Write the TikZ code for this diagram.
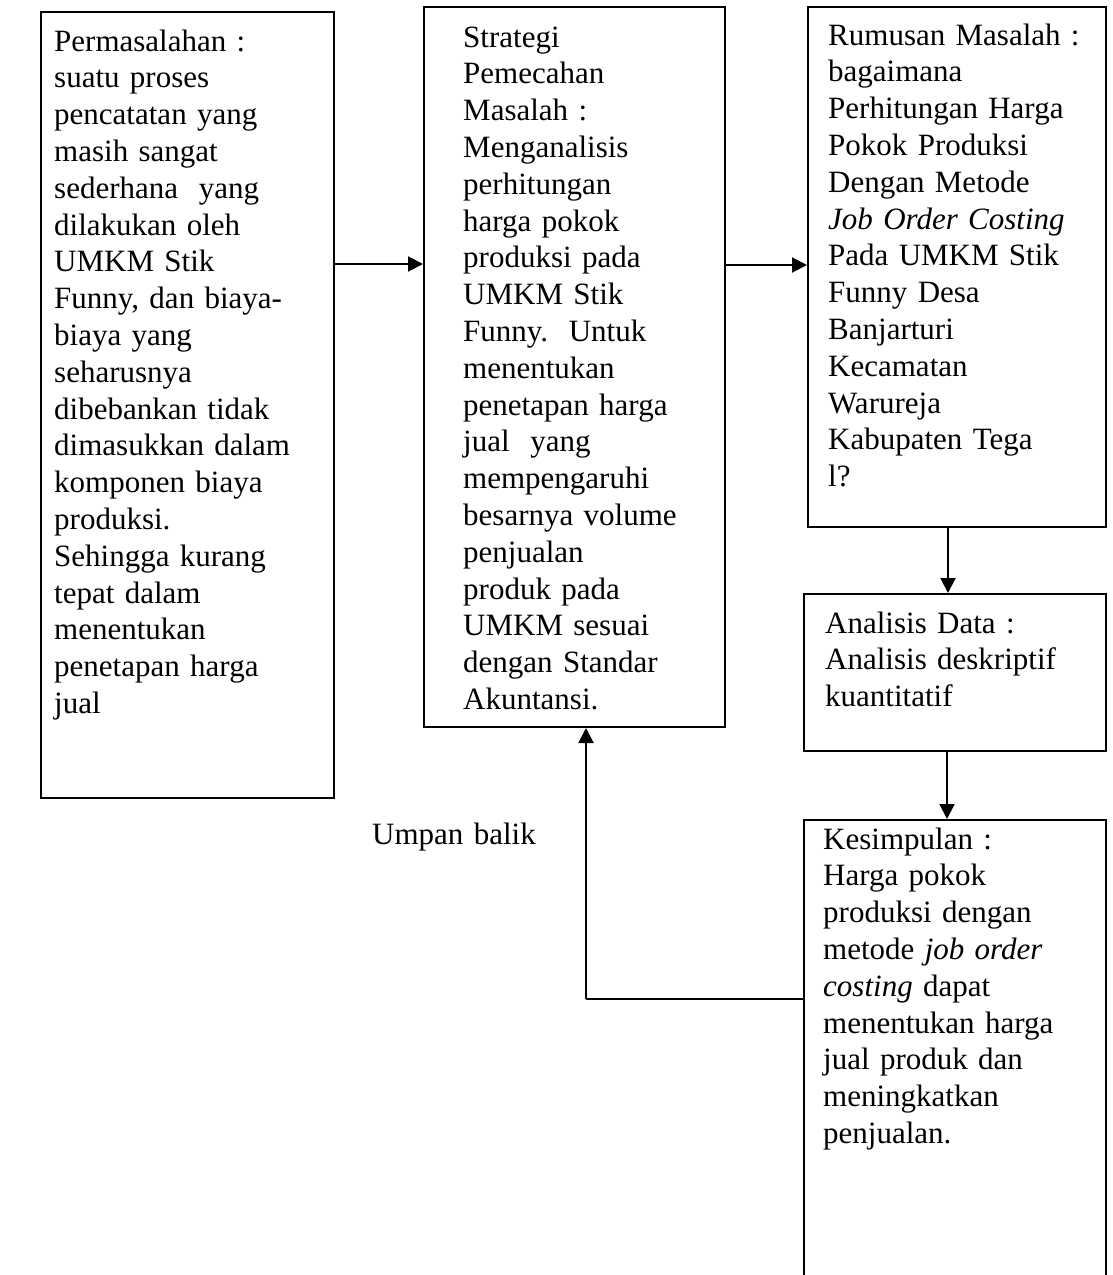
\documentclass[tikz,border=0pt]{standalone}
\usepackage{fontspec}
\setmainfont{Liberation Serif}
\usetikzlibrary{arrows.meta}
\tikzset{
  box/.style={draw, line width=2pt, inner sep=0pt, anchor=north west},
  txt/.style={inner sep=0pt, anchor=base west, align=left, text width=300pt,
    font=\fontsize{31}{36.8}\selectfont},
  conn/.style={line width=2pt, -{Triangle[length=15pt,width=15pt]}},
  plain/.style={line width=2pt}
}
\begin{document}
\begin{tikzpicture}[x=1pt,y=-1pt]
\useasboundingbox (0,0) rectangle (1112,1275);
% boxes
\node[box, minimum width=293pt, minimum height=786pt] (b1) at (40,11) {};
\node[box, minimum width=301pt, minimum height=720pt] (b2) at (423,6) {};
\node[box, minimum width=298pt, minimum height=520pt] (b3) at (807,6) {};
\node[box, minimum width=302pt, minimum height=157pt] (b4) at (803,593) {};
\node[box, minimum width=302pt, minimum height=480pt] (b5) at (803,819) {};
% texts
\node[txt] (t1) at (54,51) {Permasalahan :\\suatu proses\\pencatatan yang\\masih sangat\\sederhana\ \ yang\\dilakukan oleh\\UMKM Stik\\Funny, dan biaya-\\biaya yang\\seharusnya\\dibebankan tidak\\dimasukkan dalam\\komponen biaya\\produksi.\\Sehingga kurang\\tepat dalam\\menentukan\\penetapan harga\\jual};
\node[txt] (t2) at (463,47) {Strategi\\Pemecahan\\Masalah :\\Menganalisis\\perhitungan\\harga pokok\\produksi pada\\UMKM Stik\\Funny.\ \ Untuk\\menentukan\\penetapan harga\\jual\ \ yang\\mempengaruhi\\besarnya volume\\penjualan\\produk pada\\UMKM sesuai\\dengan Standar\\Akuntansi.};
\node[txt] (t3) at (828,45) {Rumusan Masalah :\\bagaimana\\Perhitungan Harga\\Pokok Produksi\\Dengan Metode\\\textit{Job Order Costing}\\Pada UMKM Stik\\Funny Desa\\Banjarturi\\Kecamatan\\Warureja\\Kabupaten Tega\\l?};
\node[txt] (t4) at (825,633) {Analisis Data :\\Analisis deskriptif\\kuantitatif};
\node[txt] (t5) at (823,849) {Kesimpulan :\\Harga pokok\\produksi dengan\\metode \textit{job order}\\\textit{costing} dapat\\menentukan harga\\jual produk dan\\meningkatkan\\penjualan.};
\node[txt, text width=200pt] (lbl) at (372,844) {Umpan balik};
% connectors
\coordinate (a1) at (0,264);
\coordinate (a2) at (0,265);
\coordinate (a3) at (948,0);
\coordinate (a4) at (947,0);
\coordinate (fb) at (586,999);
\draw[conn] (b1.east |- a1) -- (b2.west |- a1);
\draw[conn] (b2.east |- a2) -- (b3.west |- a2);
\draw[conn] (b3.south -| a3) -- (b4.north -| a3);
\draw[conn] (b4.south -| a4) -- (b5.north -| a4);
\draw[plain] (b5.west |- fb) -- (fb);
\draw[conn] (fb) -- (b2.south -| fb);
\end{tikzpicture}
\end{document}
